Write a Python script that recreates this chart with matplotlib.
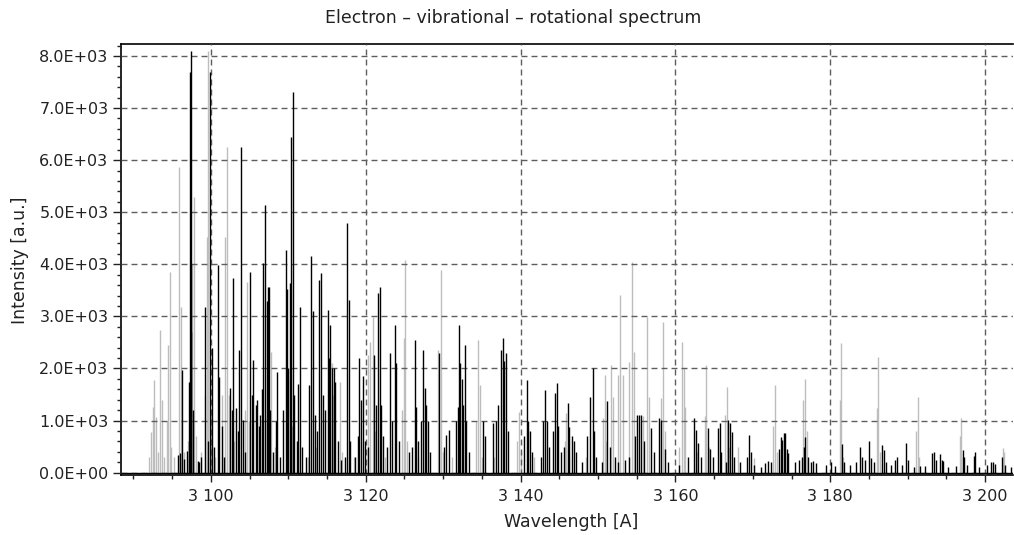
import matplotlib

matplotlib.use("Agg")

import matplotlib.pyplot as plt  # noqa: E402
from matplotlib.ticker import FuncFormatter, MultipleLocator  # noqa: E402

# (wavelength [A], intensity [a.u.])
black_lines = [
    (3095.8, 330), (3096.0, 370), (3096.3, 1970), (3096.5, 260), (3096.9, 420),
    (3097.2, 1750), (3097.3, 7700), (3097.4, 2700), (3097.5, 8100), (3097.7, 1200),
    (3098.3, 230), (3098.5, 200), (3098.7, 300), (3099.3, 3185), (3099.6, 600),
    (3099.9, 7700), (3100.2, 2400), (3100.4, 500), (3100.9, 3985), (3101.1, 1840),
    (3101.4, 900), (3101.7, 300), (3102.5, 1620), (3102.7, 1200), (3102.9, 3735),
    (3103.2, 1240), (3103.5, 800), (3103.7, 2350), (3103.9, 6260), (3104.2, 1010),
    (3104.4, 400), (3105.1, 3860), (3105.3, 1500), (3105.5, 2160), (3105.8, 1300),
    (3106.0, 1400), (3106.2, 900), (3106.4, 1100), (3106.6, 1600), (3106.8, 4020),
    (3107.0, 5140), (3107.2, 3300), (3107.4, 3560), (3107.5, 3570), (3107.7, 1200),
    (3108.0, 400), (3108.4, 1000), (3108.6, 1940), (3108.9, 300), (3109.3, 1200),
    (3109.65, 4275), (3109.8, 3520), (3110.0, 2000), (3110.2, 3635), (3110.4, 6450),
    (3110.6, 7315), (3110.8, 1500), (3111.1, 600), (3111.3, 1700), (3111.5, 3185),
    (3111.8, 500), (3112.3, 300), (3112.7, 1680), (3113.0, 4160), (3113.2, 3100),
    (3113.4, 1100), (3113.7, 800), (3113.95, 3700), (3114.25, 3840), (3114.5, 1500),
    (3114.8, 1200), (3115.1, 3120), (3115.3, 2200), (3115.45, 2835), (3115.7, 2000),
    (3115.9, 2000), (3116.1, 1750), (3116.4, 600), (3116.8, 250), (3117.3, 300),
    (3117.6, 4785), (3117.8, 3315), (3118.0, 600), (3118.6, 300), (3119.0, 700),
    (3119.2, 2195), (3119.4, 1400), (3119.6, 1850), (3119.9, 600), (3120.3, 500),
    (3121.05, 2260), (3121.3, 1300), (3121.6, 3440), (3121.8, 3570), (3122.0, 1300),
    (3122.2, 700), (3122.7, 500), (3123.1, 2290), (3123.4, 1000), (3123.75, 2835),
    (3123.95, 2100), (3124.3, 600), (3125.6, 400), (3126.0, 500), (3126.35, 2550),
    (3126.5, 1270), (3126.8, 600), (3127.1, 1000), (3127.4, 2360), (3127.6, 1620),
    (3127.8, 1300), (3128.0, 1000), (3128.3, 400), (3129.5, 2300), (3130.1, 500),
    (3130.4, 720), (3130.7, 820), (3131.7, 1000), (3131.9, 1270), (3132.05, 2835),
    (3132.2, 2100), (3132.4, 1800), (3132.6, 1300), (3132.8, 2450), (3133.0, 1000),
    (3133.3, 400), (3135.2, 1000), (3135.4, 700), (3136.4, 950), (3136.8, 1000),
    (3137.1, 1300), (3137.5, 2355), (3137.7, 2580), (3137.9, 2150), (3138.1, 2290),
    (3138.4, 800), (3140.5, 700), (3140.8, 1780), (3141.0, 1000), (3141.2, 800),
    (3141.5, 400), (3142.6, 300), (3142.9, 1000), (3143.15, 1590), (3143.4, 1000),
    (3143.7, 500), (3144.2, 800), (3144.45, 1520), (3144.65, 1720), (3144.9, 900),
    (3145.2, 400), (3145.6, 500), (3146.1, 1330), (3146.3, 870), (3146.6, 700),
    (3146.9, 600), (3147.2, 400), (3148.0, 200), (3148.6, 700), (3149.0, 1460),
    (3149.3, 2000), (3149.5, 800), (3149.8, 300), (3150.5, 200), (3151.2, 1370),
    (3151.5, 500), (3152.2, 300), (3152.6, 200), (3153.5, 250), (3154.0, 300),
    (3154.8, 700), (3155.0, 1110), (3155.3, 1110), (3155.6, 1110), (3155.9, 600),
    (3156.8, 860), (3157.2, 400), (3157.9, 1040), (3158.2, 1010), (3158.6, 450),
    (3159.0, 200), (3160.5, 150), (3161.6, 300), (3162.35, 1040), (3162.6, 820),
    (3162.9, 560), (3163.3, 300), (3164.25, 865), (3164.5, 450), (3164.8, 300),
    (3165.55, 850), (3165.7, 960), (3165.9, 400), (3166.5, 200), (3166.85, 1010),
    (3167.1, 950), (3167.3, 790), (3167.6, 300), (3168.4, 200), (3169.3, 300),
    (3169.55, 725), (3169.8, 400), (3170.2, 150), (3171.0, 100), (3171.6, 180),
    (3172.0, 230), (3172.4, 200), (3173.4, 460), (3173.6, 690), (3173.8, 630),
    (3174.0, 755), (3174.2, 755), (3174.4, 460), (3174.6, 370), (3175.5, 200),
    (3175.9, 250), (3176.3, 300), (3176.6, 500), (3176.8, 690), (3177.1, 300),
    (3177.5, 200), (3177.8, 230), (3178.2, 180), (3179.5, 150), (3180.1, 200),
    (3180.6, 120), (3181.55, 545), (3181.8, 200), (3182.6, 150), (3183.3, 200),
    (3183.8, 500), (3184.1, 300), (3184.5, 250), (3185.0, 615), (3185.3, 280),
    (3185.7, 200), (3186.7, 530), (3186.9, 440), (3187.2, 200), (3187.8, 150),
    (3188.3, 240), (3188.6, 310), (3189.3, 150), (3189.8, 575), (3190.1, 250),
    (3190.8, 100), (3191.6, 120), (3192.2, 130), (3193.2, 370), (3193.4, 400),
    (3193.6, 250), (3194.2, 355), (3194.4, 250), (3194.6, 220), (3195.2, 100),
    (3196.2, 120), (3197.1, 435), (3197.3, 310), (3197.6, 150), (3198.55, 320),
    (3198.7, 400), (3199.2, 100), (3200.3, 150), (3200.7, 200), (3201.0, 200),
    (3201.3, 170), (3202.2, 295), (3202.6, 150), (3203.3, 100),
]

gray_lines = [
    (3092.0, 300), (3092.3, 790), (3092.5, 1270), (3092.7, 1780), (3092.9, 1075),
    (3093.2, 400), (3093.45, 2740), (3093.7, 1395), (3094.0, 300), (3094.3, 1000),
    (3094.5, 2450), (3094.7, 3860), (3094.9, 500), (3095.3, 300), (3095.9, 5870),
    (3096.1, 3185), (3096.6, 400), (3097.0, 600), (3097.6, 4000), (3097.8, 5300),
    (3098.1, 700), (3098.7, 400), (3099.2, 1500), (3099.5, 4530), (3099.7, 8100),
    (3100.0, 1200), (3100.5, 300), (3101.4, 1500), (3101.8, 4530), (3102.1, 6260),
    (3102.3, 1500), (3103.0, 600), (3104.4, 1200), (3104.65, 3665), (3104.9, 1000),
    (3105.9, 400), (3107.3, 1100), (3107.8, 2320), (3108.3, 500), (3109.9, 800),
    (3110.2, 1800), (3110.5, 900), (3111.3, 400), (3112.5, 300), (3113.6, 500),
    (3115.6, 2100), (3115.8, 1500), (3116.7, 1750), (3117.0, 400), (3118.5, 300),
    (3120.3, 2250), (3120.5, 2515), (3120.9, 2990), (3121.2, 800), (3122.5, 300),
    (3124.7, 1200), (3124.9, 2580), (3125.1, 4080), (3125.4, 600), (3126.8, 300),
    (3129.35, 2360), (3129.7, 3900), (3130.0, 400), (3131.2, 300), (3134.2, 1000),
    (3134.5, 2550), (3134.7, 1680), (3135.0, 300), (3136.6, 300), (3139.5, 600),
    (3139.8, 1170), (3140.0, 400), (3141.8, 300), (3145.8, 600), (3145.9, 1140),
    (3146.2, 300), (3148.4, 300), (3150.6, 1040), (3150.9, 1875), (3151.1, 600),
    (3151.7, 2070), (3151.9, 1460), (3152.6, 1875), (3152.9, 3410), (3153.2, 1875),
    (3154.0, 2130), (3154.35, 4050), (3154.6, 2320), (3155.8, 1080), (3156.3, 2995),
    (3156.6, 1460), (3158.2, 1430), (3158.4, 2900), (3158.7, 800), (3160.5, 500),
    (3160.9, 2515), (3161.1, 2000), (3161.3, 1270), (3162.8, 400), (3163.8, 1080),
    (3164.0, 2070), (3164.3, 500), (3166.4, 1100), (3166.7, 1650), (3166.9, 500),
    (3168.1, 500), (3170.2, 280), (3172.6, 900), (3172.85, 1680), (3173.1, 400),
    (3176.5, 1400), (3176.8, 1790), (3177.0, 800), (3181.2, 1400), (3181.4, 2480),
    (3181.6, 300), (3186.0, 1250), (3186.2, 2230), (3186.4, 400), (3191.1, 800),
    (3191.3, 1460), (3191.5, 300), (3196.7, 700), (3196.9, 1040), (3197.1, 300),
    (3202.3, 470), (3202.5, 400),
]

x_range = (3088.4, 3203.6)
y_range = (-45, 8230)

black_wl, black_int = zip(*black_lines)
gray_wl, gray_int = zip(*gray_lines)

plt.rcParams["font.family"] = ["DejaVu Sans"]

W, H = 1014, 535
fig = plt.figure(figsize=(W / 100, H / 100), dpi=100)
ax = fig.add_axes([121 / W, 60 / H, 892 / W, 431 / H])

ax.vlines(gray_wl, 0, gray_int, color="#bdbdbd", linewidth=1.0, zorder=2)
ax.vlines(black_wl, 0, black_int, color="black", linewidth=1.0, zorder=3)
ax.hlines(0, x_range[0], x_range[1], color="black", linewidth=1.0, zorder=3)

ax.set_xlim(*x_range)
ax.set_ylim(*y_range)

ax.xaxis.set_major_locator(MultipleLocator(20))
ax.xaxis.set_minor_locator(MultipleLocator(5))
ax.yaxis.set_major_locator(MultipleLocator(1000))
ax.yaxis.set_minor_locator(MultipleLocator(200))
ax.xaxis.set_major_formatter(FuncFormatter(lambda v, p: f"{v:,.0f}".replace(",", " ")))
ax.yaxis.set_major_formatter(FuncFormatter(lambda v, p: f"{v:.1E}"))

ax.set_axisbelow(False)
ax.grid(True, which="major", linestyle=(0, (4.3, 2.9)), color="#5e5e5e", linewidth=1.0)

ax.tick_params(which="major", direction="out", length=5, width=1,
               labelsize=11.5, colors="#222222", pad=5)
ax.tick_params(axis="y", which="major", length=6, pad=3)
ax.tick_params(which="minor", direction="out", length=3, width=1, colors="#222222")

for side in ("top", "left", "bottom"):
    ax.spines[side].set_linewidth(1.2)
ax.spines["right"].set_visible(False)

fig.text(513 / W, 1 - 18 / H, "Electron – vibrational – rotational spectrum",
         ha="center", va="center", fontsize=12.5, color="#222222")
fig.text(571 / W, 1 - 522 / H, "Wavelength [A]",
         ha="center", va="center", fontsize=12.5, color="#222222")
fig.text(20 / W, 1 - 260 / H, "Intensity [a.u.]", rotation=90,
         ha="center", va="center", fontsize=12.5, color="#222222")

fig.savefig("out.png", dpi=100)
